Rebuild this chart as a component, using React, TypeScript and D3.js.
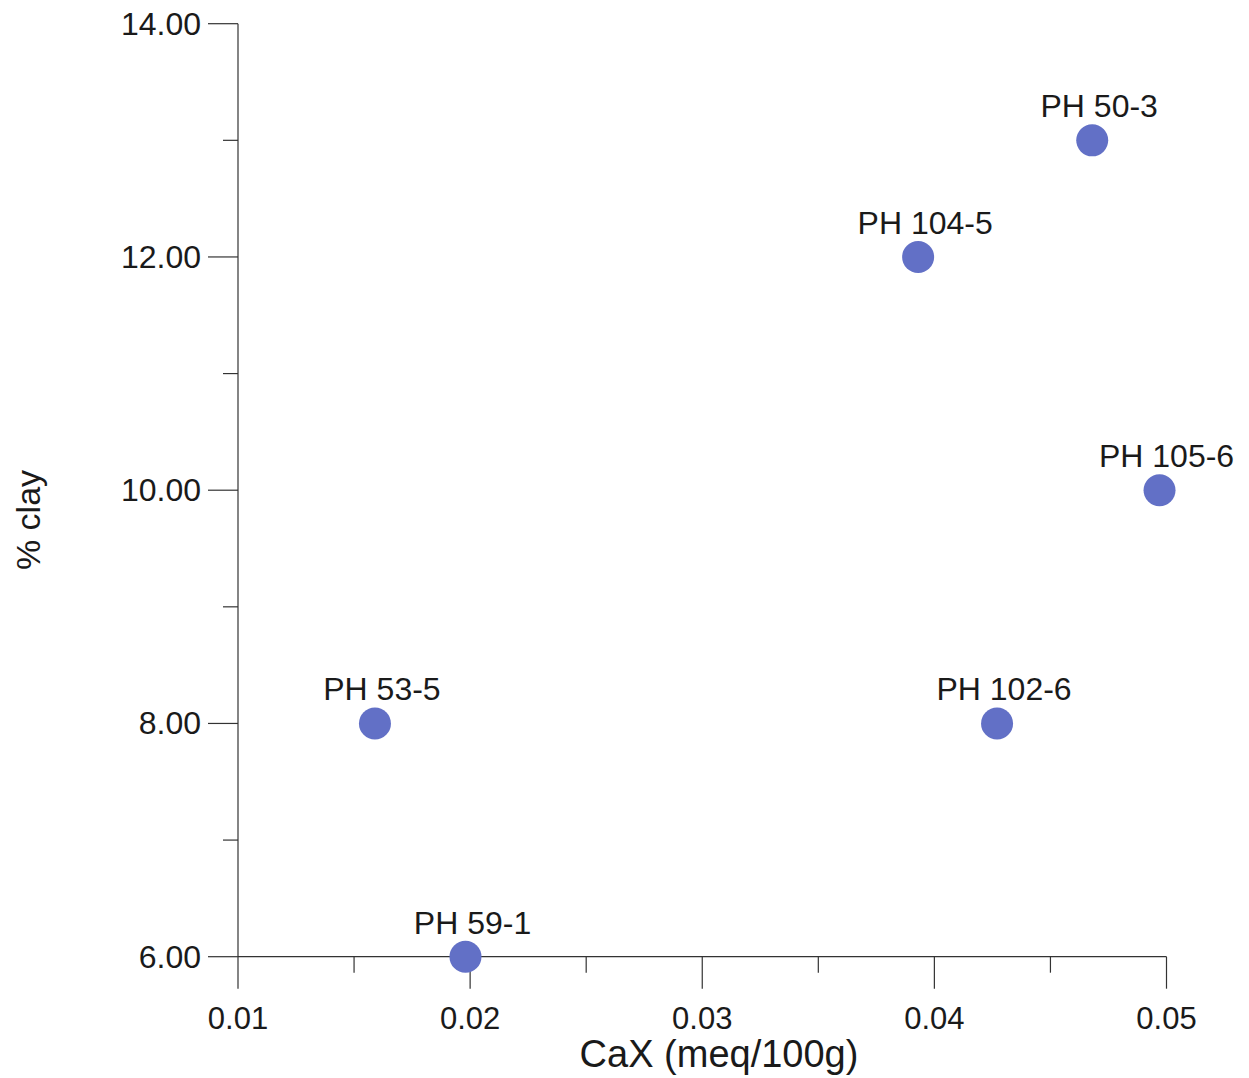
import React from "react";
import * as d3 from "d3";

const sampleLabels = ["PH 50-3", "PH 104-5", "PH 105-6", "PH 53-5", "PH 102-6", "PH 59-1"];
const caxValues = [0.0468, 0.0393, 0.0497, 0.0159, 0.0427, 0.0198];
const clayValues = [13.0, 12.0, 10.0, 8.0, 8.0, 6.0];
const xMajorTicks = [0.01, 0.02, 0.03, 0.04, 0.05];
const xMinorTicks = [0.015, 0.025, 0.035, 0.045];
const yMajorTicks = [6, 8, 10, 12, 14];
const yMinorTicks = [7, 9, 11, 13];

const W = 1249;
const H = 1078;
const FONT = "'Liberation Sans', Arial, sans-serif";
const TEXT = "#1a1a1a";
const AXIS = "#333";
const DOT = "#6270c6";

export default function App() {
  const x = d3.scaleLinear().domain([0.01, 0.05]).range([238, 1166.5]);
  const y = d3.scaleLinear().domain([6, 14]).range([956.7, 23.7]);
  const x0 = x(0.01);
  const y0 = y(6);
  const fmtX = d3.format(".2f");
  const fmtY = d3.format(".2f");

  return (
    <svg
      width={W}
      height={H}
      style={{ position: "absolute", left: 0, top: 0, background: "#fff" }}
    >
      {/* axes lines */}
      <line x1={x0} x2={x0} y1={y(14)} y2={y0} stroke={AXIS} strokeWidth={1.2} />
      <line x1={x0} x2={x(0.05)} y1={y0} y2={y0} stroke={AXIS} strokeWidth={1.2} />

      {/* y ticks */}
      {yMajorTicks.map((t) => (
        <g key={"ym" + t}>
          <line x1={x0 - 30} x2={x0} y1={y(t)} y2={y(t)} stroke={AXIS} strokeWidth={1.2} />
          <text
            x={x0 - 37}
            y={y(t)}
            textAnchor="end"
            dominantBaseline="central"
            fontFamily={FONT}
            fontSize={32}
            fill={TEXT}
          >
            {fmtY(t)}
          </text>
        </g>
      ))}
      {yMinorTicks.map((t) => (
        <line key={"yn" + t} x1={x0 - 15} x2={x0} y1={y(t)} y2={y(t)} stroke={AXIS} strokeWidth={1.2} />
      ))}

      {/* x ticks */}
      {xMajorTicks.map((t) => (
        <g key={"xm" + t}>
          <line x1={x(t)} x2={x(t)} y1={y0} y2={y0 + 32} stroke={AXIS} strokeWidth={1.2} />
          <text
            x={x(t)}
            y={1029}
            textAnchor="middle"
            fontFamily={FONT}
            fontSize={31}
            fill={TEXT}
          >
            {fmtX(t)}
          </text>
        </g>
      ))}
      {xMinorTicks.map((t) => (
        <line key={"xn" + t} x1={x(t)} x2={x(t)} y1={y0} y2={y0 + 16} stroke={AXIS} strokeWidth={1.2} />
      ))}

      {/* axis titles */}
      <text
        x={719}
        y={1067}
        textAnchor="middle"
        fontFamily={FONT}
        fontSize={38}
        fill={TEXT}
      >
        CaX (meq/100g)
      </text>
      <text
        transform={`translate(40,${520}) rotate(-90)`}
        textAnchor="middle"
        fontFamily={FONT}
        fontSize={34}
        fill={TEXT}
      >
        % clay
      </text>

      {/* points */}
      {sampleLabels.map((lab, i) => {
        const cx = x(caxValues[i]);
        const cy = y(clayValues[i]);
        return (
          <g key={lab}>
            <circle cx={cx} cy={cy} r={16} fill={DOT} />
            <text
              x={cx + 7}
              y={cy - 23}
              textAnchor="middle"
              fontFamily={FONT}
              fontSize={32}
              fill={TEXT}
            >
              {lab}
            </text>
          </g>
        );
      })}
    </svg>
  );
}
